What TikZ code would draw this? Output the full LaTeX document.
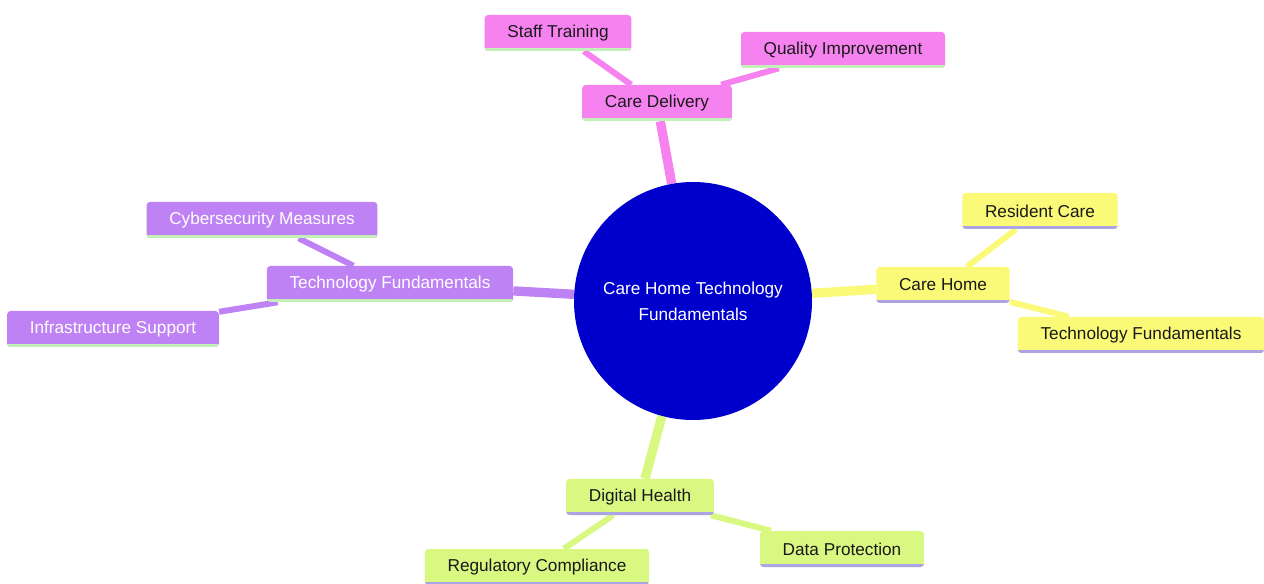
\documentclass[tikz,border=0pt]{standalone}
\usepackage{fontspec}
\setmainfont{Liberation Sans}
\usetikzlibrary{backgrounds}
\definecolor{pinkfill}{RGB}{246,130,240}
\definecolor{purplefill}{RGB}{191,130,245}
\definecolor{yellowfill}{RGB}{250,250,120}
\definecolor{greenfill}{RGB}{216,248,130}
\definecolor{rootblue}{RGB}{0,0,205}
\definecolor{lightgreenline}{RGB}{195,240,185}
\definecolor{lavenderline}{RGB}{172,164,228}
\definecolor{darktext}{RGB}{25,25,25}
\tikzset{
	topic/.style={rectangle, rounded corners=2.5pt, inner xsep=17pt, inner ysep=0pt,
		minimum height=27pt, font=\fontsize{12.9}{15}\selectfont, text=darktext},
	underline/.style={path picture={\draw [line width=4pt,#1]
		(path picture bounding box.south west) -- (path picture bounding box.south east);}},
	pinkbox/.style={topic, fill=pinkfill, underline=lightgreenline},
	purplebox/.style={topic, fill=purplefill, underline=lightgreenline, text=white},
	yellowbox/.style={topic, fill=yellowfill, underline=lavenderline},
	greenbox/.style={topic, fill=greenfill, underline=lavenderline},
	mainedge/.style={line width=7pt, #1},
	subedge/.style={line width=4.5pt, #1}
}
\begin{document}
\begin{tikzpicture}[x=0.75pt, y=-0.75pt]
	\useasboundingbox (0,0) rectangle (1264,584);
	\node [circle, fill=rootblue, minimum size=178.5pt, text=white, align=center,
		font=\fontsize{12.9}{19.5}\selectfont] (root) at (693,301)
		{Care Home Technology\\Fundamentals};

	% pink branch
	\node [pinkbox] (delivery) at (657,103) {Care Delivery};
	\node [pinkbox] (training) at (558,33) {Staff Training};
	\node [pinkbox] (quality) at (843,50) {Quality Improvement};

	% purple branch
	\node [purplebox] (techleft) at (390,284) {Technology Fundamentals};
	\node [purplebox] (cyber) at (262,220) {Cybersecurity Measures};
	\node [purplebox] (infra) at (113,329) {Infrastructure Support};

	% yellow branch
	\node [yellowbox] (carehome) at (943,285) {Care Home};
	\node [yellowbox] (resident) at (1040,211) {Resident Care};
	\node [yellowbox] (techright) at (1141,335) {Technology Fundamentals};

	% green branch
	\node [greenbox] (digital) at (640,497) {Digital Health};
	\node [greenbox] (regulatory) at (537,567) {Regulatory Compliance};
	\node [greenbox] (dataprot) at (842,549) {Data Protection};

	\begin{scope}[on background layer]
		\draw [mainedge=pinkfill] (root) -- (delivery);
		\draw [subedge=pinkfill] (delivery) -- (training);
		\draw [subedge=pinkfill] (delivery) -- (quality);
		\draw [mainedge=purplefill] (root) -- (techleft);
		\draw [subedge=purplefill] (techleft) -- (cyber);
		\draw [subedge=purplefill] (techleft) -- (infra);
		\draw [mainedge=yellowfill] (root) -- (carehome);
		\draw [subedge=yellowfill] (carehome) -- (resident);
		\draw [subedge=yellowfill] (carehome) -- (techright);
		\draw [mainedge=greenfill] (root) -- (digital);
		\draw [subedge=greenfill] (digital) -- (regulatory);
		\draw [subedge=greenfill] (digital) -- (dataprot);
	\end{scope}
\end{tikzpicture}
\end{document}
